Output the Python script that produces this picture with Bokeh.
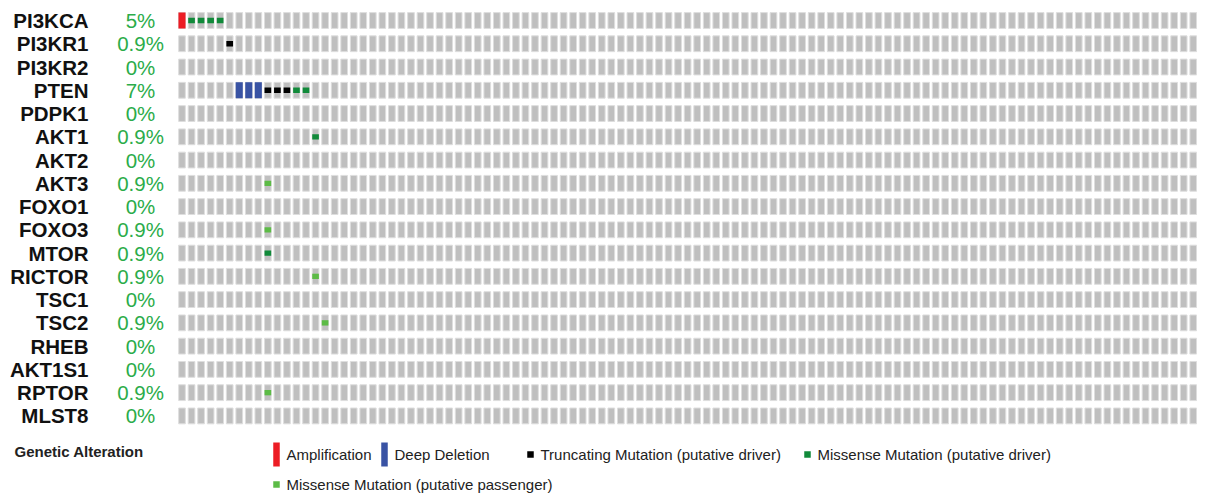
from bokeh.plotting import figure
from bokeh.models import Range1d
from bokeh.core.properties import value
from bokeh.embed import file_html
from bokeh.resources import INLINE

# ---------------- data ----------------
genes = ["PI3KCA", "PI3KR1", "PI3KR2", "PTEN", "PDPK1", "AKT1", "AKT2", "AKT3",
         "FOXO1", "FOXO3", "MTOR", "RICTOR", "TSC1", "TSC2", "RHEB", "AKT1S1",
         "RPTOR", "MLST8"]
pct_labels = ["5%", "0.9%", "0%", "7%", "0%", "0.9%", "0%", "0.9%", "0%", "0.9%",
              "0.9%", "0.9%", "0%", "0.9%", "0%", "0%", "0.9%", "0%"]
n_samples = 107

alt_genes = ["PI3KCA", "PI3KCA", "PI3KCA", "PI3KCA", "PI3KCA",
             "PI3KR1",
             "PTEN", "PTEN", "PTEN", "PTEN", "PTEN", "PTEN", "PTEN", "PTEN",
             "AKT1", "AKT3", "FOXO3", "MTOR", "RICTOR", "TSC2", "RPTOR"]
alt_samples = [0, 1, 2, 3, 4,
               5,
               6, 7, 8, 9, 10, 11, 12, 13,
               14, 9, 9, 9, 14, 15, 9]
alt_types = ["amp", "mis_drv", "mis_drv", "mis_drv", "mis_drv",
             "trunc",
             "del", "del", "del", "trunc", "trunc", "trunc", "mis_drv", "mis_drv",
             "mis_drv", "mis_pas", "mis_pas", "mis_drv", "mis_pas", "mis_pas", "mis_pas"]

legend_types = ["amp", "del", "trunc", "mis_drv", "mis_pas"]
legend_labels = ["Amplification", "Deep Deletion", "Truncating Mutation (putative driver)",
                 "Missense Mutation (putative driver)", "Missense Mutation (putative passenger)"]

# ---------------- styles ----------------
colors = {"amp": "#ec1c24", "del": "#3953a4", "trunc": "#000000",
          "mis_drv": "#118a3a", "mis_pas": "#5cbb46"}
full_height = {"amp": True, "del": True, "trunc": False, "mis_drv": False, "mis_pas": False}
GREEN_TXT = "#2bac4a"
FONT = "Liberation Sans"

W, H = 1197, 496
# layout mapping (picture pixel -> data units)
PX0, PITCH = 181.5, 9.54
PY0, RPITCH = 20.0, 23.26


def fx(px):
    return (px - PX0) / PITCH


def fy(py):
    return (py - PY0) / RPITCH


p = figure(width=W, height=H, output_backend="svg", toolbar_location=None,
           x_range=Range1d(fx(0), fx(W)), y_range=Range1d(fy(H), fy(0)),
           x_axis_location=None, y_axis_location=None, min_border=0,
           outline_line_color=None, background_fill_color="white")
p.xgrid.visible = False
p.ygrid.visible = False

row_of = {g: i for i, g in enumerate(genes)}

# background gray cells
bx, by = [], []
for r in range(len(genes)):
    for c in range(n_samples):
        bx.append(c)
        by.append(r)
p.rect(x=bx, y=by, width=0.70, height=0.68, fill_color="#bfbfbf",
       line_color="#dedede", line_width=1)

# alterations
for t in legend_types:
    xs = [s for s, tt in zip(alt_samples, alt_types) if tt == t]
    ys = [row_of[g] for g, tt in zip(alt_genes, alt_types) if tt == t]
    if not xs:
        continue
    h = 0.68 if full_height[t] else 0.23
    w = 0.74 if full_height[t] else 0.70
    p.rect(x=xs, y=ys, width=w, height=h, fill_color=colors[t], line_color=None)

# gene labels
p.text(x=[fx(88)] * len(genes), y=list(range(len(genes))), text=genes,
       text_align="right", text_baseline="middle", text_font=value(FONT),
       text_font_style="bold", text_font_size="20.5px", text_color="#111111")
# percentage labels
p.text(x=[fx(140)] * len(genes), y=list(range(len(genes))), text=pct_labels,
       text_align="center", text_baseline="middle", text_font=value(FONT),
       text_font_size="20.5px", text_color=GREEN_TXT)

# legend
p.text(x=[fx(14)], y=[fy(451)], text=["Genetic Alteration"], text_align="left",
       text_baseline="middle", text_font=value(FONT), text_font_style="bold",
       text_font_size="15px", text_color="#222222")

leg_px = [276, 384, 530, 807, 276]
leg_py = [454, 454, 454, 454, 484]
for t, lab, lx, ly in zip(legend_types, legend_labels, leg_px, leg_py):
    if full_height[t]:
        p.rect(x=[fx(lx)], y=[fy(ly)], width=6.5 / PITCH, height=24 / RPITCH,
               fill_color=colors[t], line_color=None)
    else:
        p.rect(x=[fx(lx)], y=[fy(ly)], width=6.5 / PITCH, height=6.5 / RPITCH,
               fill_color=colors[t], line_color=None)
    p.text(x=[fx(lx + 10)], y=[fy(ly)], text=[lab], text_align="left",
           text_baseline="middle", text_font=value(FONT), text_font_size="15px",
           text_color="#222222")

open("out.html", "w").write(file_html(p, INLINE))
